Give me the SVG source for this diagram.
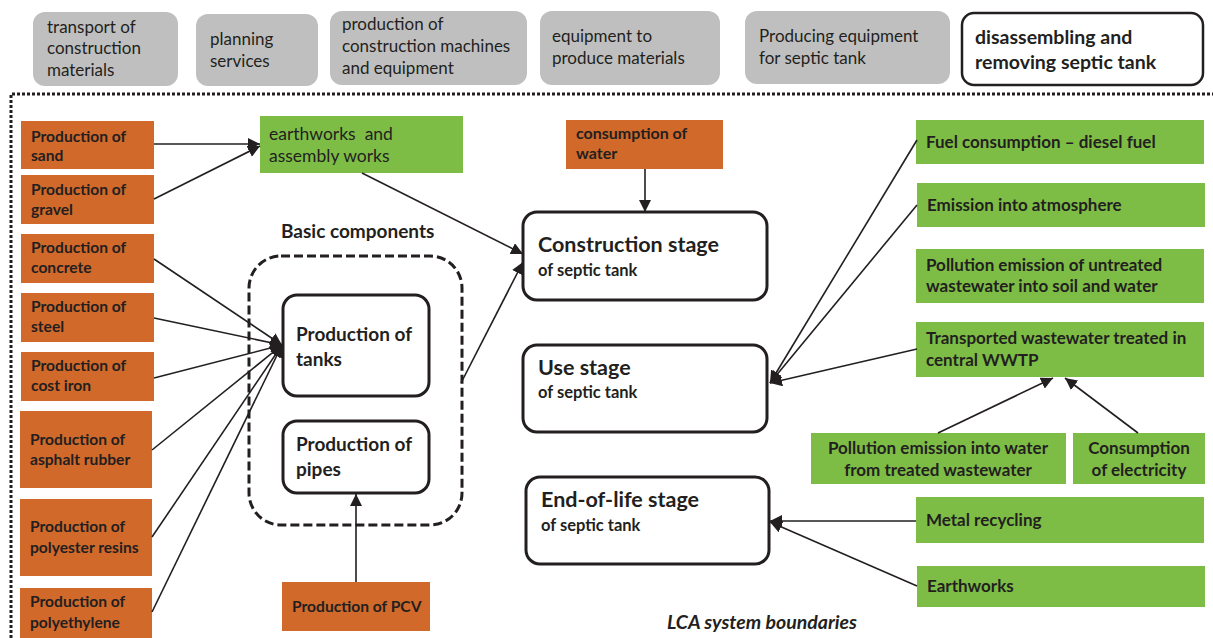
<svg xmlns="http://www.w3.org/2000/svg" width="1213" height="638" viewBox="0 0 1213 638">
<style>
text{font-family:Lato,"Open Sans","Liberation Sans",sans-serif;fill:#231f20}
.gray{fill:#bfbfbf}
.org{fill:#d1692b}
.grn{fill:#7dbd45}
.t{font-size:15.6px;font-weight:bold}
.r{font-size:17px;font-weight:bold}
.tg{font-size:17px}
.stage{fill:#fff;stroke:#231f20;stroke-width:3}
.big{font-size:21.5px;font-weight:bold}
.sub{font-size:16.5px;font-weight:bold}
.bx{font-size:19px;font-weight:bold}
.conn line{stroke:#231f20;stroke-width:1.6;fill:none}
</style>
<defs>
<marker id="ah" viewBox="0 0 10 10" refX="10" refY="5" markerWidth="12" markerHeight="12" markerUnits="userSpaceOnUse" orient="auto">
<path d="M0,0 L10,5 L0,10 z" fill="#231f20"/>
</marker>
</defs>
<rect width="1213" height="638" fill="#fff"/>

<!-- boundary -->
<path d="M11,638 V94 H1213" fill="none" stroke="#231f20" stroke-width="3" stroke-dasharray="3,2"/>

<!-- top row -->
<g id="n-transport"><rect class="gray" x="33" y="12" width="145" height="74" rx="12"/><text class="tg" x="47" y="33">transport of</text><text class="tg" x="47" y="54">construction</text><text class="tg" x="47" y="76">materials</text></g>
<g id="n-planning"><rect class="gray" x="196" y="14" width="122" height="72" rx="12"/><text class="tg" x="210" y="45">planning</text><text class="tg" x="210" y="67">services</text></g>
<g id="n-machines"><rect class="gray" x="330" y="11" width="197" height="74" rx="12"/><text class="tg" x="342" y="30">production of</text><text class="tg" x="342" y="52">construction machines</text><text class="tg" x="342" y="74">and equipment</text></g>
<g id="n-equip"><rect class="gray" x="540" y="11" width="180" height="74" rx="12"/><text class="tg" x="552" y="42">equipment to</text><text class="tg" x="552" y="64">produce materials</text></g>
<g id="n-producing"><rect class="gray" x="745" y="11" width="205" height="73" rx="12"/><text class="tg" x="759" y="42">Producing equipment</text><text class="tg" x="759" y="64">for septic tank</text></g>
<g id="n-disassembling"><rect x="962" y="13" width="241" height="72" rx="12" fill="#fff" stroke="#231f20" stroke-width="2.5"/><text x="975" y="44" style="font-size:19.5px;font-weight:bold">disassembling and</text><text x="975" y="69" style="font-size:19.5px;font-weight:bold">removing septic tank</text></g>

<!-- left column -->
<g id="n-sand"><rect class="org" x="21" y="121" width="133" height="48"/><text class="t" x="31" y="142">Production of</text><text class="t" x="31" y="161">sand</text></g>
<g id="n-gravel"><rect class="org" x="21" y="175" width="133" height="49"/><text class="t" x="31" y="195">Production of</text><text class="t" x="31" y="215">gravel</text></g>
<g id="n-concrete"><rect class="org" x="21" y="234" width="133" height="49"/><text class="t" x="31" y="253">Production of</text><text class="t" x="31" y="273">concrete</text></g>
<g id="n-steel"><rect class="org" x="21" y="293" width="133" height="49"/><text class="t" x="31" y="312">Production of</text><text class="t" x="31" y="332">steel</text></g>
<g id="n-castiron"><rect class="org" x="21" y="352" width="133" height="49"/><text class="t" x="31" y="371">Production of</text><text class="t" x="31" y="391">cost iron</text></g>
<g id="n-asphalt"><rect class="org" x="20" y="411" width="132" height="77"/><text class="t" x="30" y="445">Production of</text><text class="t" x="30" y="465">asphalt rubber</text></g>
<g id="n-polyester"><rect class="org" x="20" y="499" width="132" height="77"/><text class="t" x="30" y="532">Production of</text><text class="t" x="30" y="553">polyester resins</text></g>
<g id="n-polyethylene"><rect class="org" x="20" y="588" width="132" height="50"/><text class="t" x="30" y="607">Production of</text><text class="t" x="30" y="628">polyethylene</text></g>

<!-- middle -->
<g id="n-earthworks-assembly"><rect class="grn" x="260" y="116" width="203" height="57"/><text x="269" y="140" style="font-size:17.5px;white-space:pre" xml:space="preserve">earthworks  and</text><text x="269" y="162" style="font-size:17.5px">assembly works</text></g>

<g id="n-basic">
<text x="281" y="238" style="font-size:19px;font-weight:bold">Basic components</text>
<rect x="249" y="256" width="213" height="269" rx="32" fill="none" stroke="#231f20" stroke-width="3" stroke-dasharray="9,4"/>
</g>
<g id="n-tanks"><rect class="stage" x="283" y="295" width="146" height="101" rx="14"/><text class="bx" x="296" y="341">Production of</text><text class="bx" x="296" y="366">tanks</text></g>
<g id="n-pipes"><rect class="stage" x="283" y="421" width="146" height="72" rx="14"/><text class="bx" x="296" y="451">Production of</text><text class="bx" x="296" y="476">pipes</text></g>
<g id="n-pcv"><rect class="org" x="282" y="582" width="148" height="49"/><text class="t" x="292" y="612">Production of PCV</text></g>

<g id="n-water"><rect class="org" x="566" y="120" width="157" height="49"/><text class="t" x="576" y="139" style="font-size:16px">consumption of</text><text class="t" x="576" y="159" style="font-size:16px">water</text></g>
<g id="n-construction"><rect class="stage" x="523" y="212" width="244" height="88" rx="14"/><text class="big" x="538" y="252">Construction stage</text><text class="sub" x="538" y="276">of septic tank</text></g>
<g id="n-use"><rect class="stage" x="523" y="345" width="244" height="87" rx="14"/><text class="big" x="538" y="375">Use stage</text><text class="sub" x="538" y="398">of septic tank</text></g>
<g id="n-eol"><rect class="stage" x="526" y="477" width="243" height="87" rx="14"/><text class="big" x="541" y="507">End-of-life stage</text><text class="sub" x="541" y="531">of septic tank</text></g>

<!-- right column -->
<g id="n-fuel"><rect class="grn" x="916" y="120" width="288" height="44"/><text class="r" x="926" y="148">Fuel consumption – diesel fuel</text></g>
<g id="n-emission"><rect class="grn" x="917" y="183" width="288" height="44"/><text class="r" x="927" y="211">Emission into atmosphere</text></g>
<g id="n-untreated"><rect class="grn" x="916" y="249" width="288" height="54"/><text class="r" x="926" y="271">Pollution emission of untreated</text><text class="r" x="926" y="292">wastewater into soil and water</text></g>
<g id="n-transported"><rect class="grn" x="916" y="322" width="288" height="55"/><text class="r" x="926" y="344">Transported wastewater treated in</text><text class="r" x="926" y="366">central WWTP</text></g>
<g id="n-treated"><rect class="grn" x="811" y="433" width="255" height="51"/><text class="r" x="938" y="454" text-anchor="middle">Pollution emission into water</text><text class="r" x="938" y="476" text-anchor="middle">from treated wastewater</text></g>
<g id="n-electricity"><rect class="grn" x="1073" y="433" width="132" height="51"/><text class="r" x="1139" y="454" text-anchor="middle">Consumption</text><text class="r" x="1139" y="476" text-anchor="middle">of electricity</text></g>
<g id="n-metal"><rect class="grn" x="916" y="497" width="288" height="46"/><text class="r" x="926" y="526">Metal recycling</text></g>
<g id="n-earthworks"><rect class="grn" x="917" y="566" width="288" height="41"/><text class="r" x="927" y="592">Earthworks</text></g>

<text x="667" y="629" style="font-size:19.5px;font-weight:bold;font-style:italic">LCA system boundaries</text>

<!-- connectors -->
<g id="connectors" class="conn">
<line x1="154" y1="144" x2="260" y2="144" marker-end="url(#ah)"/>
<line x1="154" y1="199" x2="260" y2="146" marker-end="url(#ah)"/>
<line x1="154" y1="259" x2="282" y2="345" marker-end="url(#ah)"/>
<line x1="154" y1="318" x2="282" y2="345" marker-end="url(#ah)"/>
<line x1="154" y1="378" x2="282" y2="345" marker-end="url(#ah)"/>
<line x1="152" y1="450" x2="282" y2="345" marker-end="url(#ah)"/>
<line x1="152" y1="537" x2="282" y2="345" marker-end="url(#ah)"/>
<line x1="152" y1="612" x2="282" y2="345" marker-end="url(#ah)"/>
<line x1="356" y1="582" x2="356" y2="494" marker-end="url(#ah)"/>
<line x1="362" y1="173" x2="523" y2="254" marker-end="url(#ah)"/>
<line x1="461" y1="383" x2="523" y2="262" marker-end="url(#ah)"/>
<line x1="645" y1="169" x2="645" y2="212" marker-end="url(#ah)"/>
<line x1="917" y1="140" x2="770" y2="383" marker-end="url(#ah)"/>
<line x1="917" y1="205" x2="770" y2="383" marker-end="url(#ah)"/>
<line x1="917" y1="349" x2="770" y2="383" marker-end="url(#ah)"/>
<line x1="938" y1="433" x2="1053" y2="378" marker-end="url(#ah)"/>
<line x1="1138" y1="433" x2="1065" y2="378" marker-end="url(#ah)"/>
<line x1="916" y1="521" x2="770" y2="521" marker-end="url(#ah)"/>
<line x1="917" y1="586" x2="770" y2="522" marker-end="url(#ah)"/>
</g>
</svg>
